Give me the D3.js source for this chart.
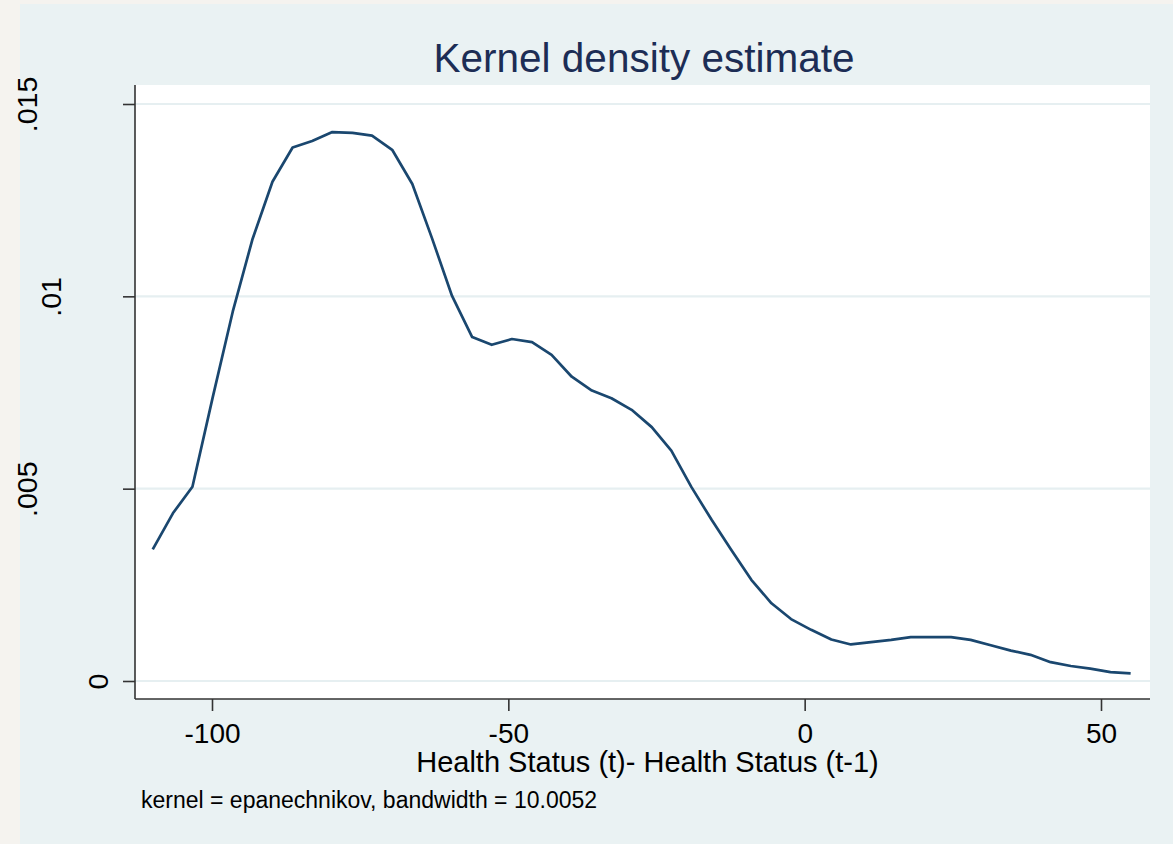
<!DOCTYPE html>
<html><head><meta charset="utf-8">
<script src="https://cdn.jsdelivr.net/npm/d3@7"></script>
<style>
html,body{margin:0;padding:0;background:#f5f3ef;}
svg{display:block;font-family:"Liberation Sans",Arial,sans-serif;}
</style></head>
<body>
<svg id="chart" width="1173" height="844"></svg>
<script>
// ---- data ----
const xValues = [-110, -106.6, -103.3, -99.9, -96.5, -93.2, -89.8, -86.4, -83.1, -79.7,
  -76.3, -73.0, -69.6, -66.2, -62.9, -59.5, -56.1, -52.8, -49.4, -46.0,
  -42.7, -39.3, -35.9, -32.6, -29.2, -25.8, -22.5, -19.1, -15.7, -12.4,
  -9.0, -5.6, -2.3, 1.1, 4.5, 7.8, 11.2, 14.6, 17.9, 21.3,
  24.7, 28.0, 31.4, 34.8, 38.1, 41.5, 44.9, 48.2, 51.6, 55.0];
const densityValues = [0.00342, 0.00436, 0.00505, 0.00736, 0.0096, 0.01147, 0.01298, 0.01387, 0.01404, 0.01427,
  0.01425, 0.01418, 0.01381, 0.01292, 0.01152, 0.01001, 0.00894, 0.00874, 0.00889, 0.00881,
  0.00848, 0.00791, 0.00755, 0.00735, 0.00705, 0.0066, 0.00599, 0.00504, 0.00419, 0.00341,
  0.00263, 0.00202, 0.00161, 0.00133, 0.00108, 0.00095, 0.00101, 0.00107, 0.00114, 0.00114,
  0.00114, 0.00107, 0.00093, 0.00079, 0.00068, 0.00049, 0.00039, 0.00032, 0.00023, 0.0002];
const xTicks = [-100, -50, 0, 50];
const xTickLabels = ["-100", "-50", "0", "50"];
const yTicks = [0, 0.005, 0.01, 0.015];
const yTickLabels = ["0", ".005", ".01", ".015"];
const titleText = "Kernel density estimate";
const xAxisTitle = "Health Status (t)- Health Status (t-1)";
const noteText = "kernel = epanechnikov, bandwidth = 10.0052";

// ---- layout ----
const svg = d3.select("#chart");
const plot = {left:135, right:1150, top:85, bottom:699};
const x = d3.scaleLinear().domain([-100, 50]).range([212, 1101]);
const y = d3.scaleLinear().domain([0, 0.015]).range([681, 104]);

// outer panel
svg.append("rect").attr("x",20).attr("y",4).attr("width",1153).attr("height",840).attr("fill","#eaf2f3");
// plot region
svg.append("rect").attr("x",plot.left).attr("y",plot.top)
  .attr("width",plot.right-plot.left).attr("height",plot.bottom-plot.top).attr("fill","#ffffff");

// gridlines
svg.append("g").selectAll("line").data(yTicks).join("line")
  .attr("x1",plot.left).attr("x2",plot.right)
  .attr("y1",d=>y(d)).attr("y2",d=>y(d))
  .attr("stroke","#e6eff1").attr("stroke-width",2.2);

// density line
const line = d3.line().x((d,i)=>x(xValues[i])).y(d=>y(d));
svg.append("path").datum(densityValues).attr("d",line)
  .attr("fill","none").attr("stroke","#1a476f").attr("stroke-width",2.7)
  .attr("stroke-linejoin","round");

// x axis
const xAxis = svg.append("g").attr("transform",`translate(0,${plot.bottom})`)
  .call(d3.axisBottom(x).tickValues(xTicks).tickSize(12).tickPadding(0)
    .tickFormat((d,i)=>xTickLabels[i]));
xAxis.select(".domain").attr("d",`M${plot.left},0H${plot.right}`).attr("stroke","#333").attr("stroke-width",1.6);
xAxis.selectAll(".tick line").attr("stroke","#333").attr("stroke-width",1.6);
xAxis.selectAll(".tick text").attr("y",44).attr("dy",null)
  .attr("font-size",28).attr("fill","#000").attr("font-family","Liberation Sans, Arial, sans-serif");

// y axis
const yAxis = svg.append("g").attr("transform",`translate(${plot.left},0)`)
  .call(d3.axisLeft(y).tickValues(yTicks).tickSize(12).tickFormat((d,i)=>yTickLabels[i]));
yAxis.select(".domain").attr("d",`M0,${plot.top}V${plot.bottom}`).attr("stroke","#333").attr("stroke-width",1.6);
yAxis.selectAll(".tick line").attr("stroke","#333").attr("stroke-width",1.6);
yAxis.selectAll(".tick text")
  .attr("x",null).attr("dy",null)
  .attr("text-anchor","middle")
  .attr("font-size",28.5).attr("fill","#000").attr("font-family","Liberation Sans, Arial, sans-serif")
  .attr("transform",(d,i)=>{
    const len = yTickLabels[i].length;
    const bx = -plot.left + 131 - 23.5*len;
    return `translate(${bx},0) rotate(-90)`;
  });

// title
svg.append("text").attr("x",644).attr("y",71.5).attr("text-anchor","middle")
  .attr("font-size",40.5).attr("fill","#1c2d55").text(titleText);
// x axis title
svg.append("text").attr("x",647.5).attr("y",772).attr("text-anchor","middle")
  .attr("font-size",29).attr("fill","#000").text(xAxisTitle);
// note
svg.append("text").attr("x",141).attr("y",808).attr("text-anchor","start")
  .attr("font-size",23).attr("fill","#000").text(noteText);
</script>
</body></html>
